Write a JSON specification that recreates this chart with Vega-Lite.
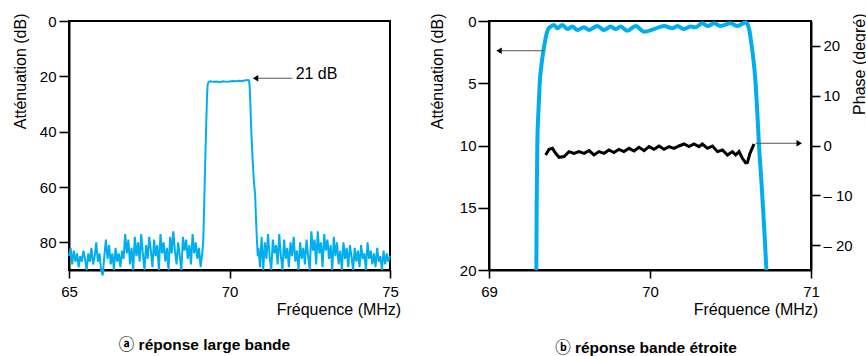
{
  "$schema": "https://vega.github.io/schema/vega-lite/v6.json",
  "padding": {"left": 11, "top": 12, "right": 0, "bottom": 0},
  "background": "white",
  "spacing": 99,
  "bounds": "flush",
  "config": {
    "font": "Liberation Sans",
    "view": {"stroke": "black", "strokeWidth": 2},
    "axis": {"domainColor": "black", "domainWidth": 2, "tickColor": "black", "tickWidth": 1.6, "labelColor": "black", "labelFontSize": 15, "titleFontSize": 16, "titleFontWeight": "normal", "titleColor": "black", "grid": false, "labelFont": "Liberation Sans", "titleFont": "Liberation Sans", "labelFlush": false, "labelOverlap": false},
    "title": {"font": "Liberation Sans, Noto Sans CJK JP", "fontSize": 15.5, "fontWeight": "bold", "color": "black"}
  },
  "datasets": {
    "wide": [
      {"f":65.00,"a":85},{"f":65.05,"a":82},{"f":65.10,"a":88},{"f":65.15,"a":83},{"f":65.20,"a":87},{"f":65.25,"a":84},{"f":65.30,"a":89},{"f":65.35,"a":85},{"f":65.40,"a":87},{"f":65.45,"a":83},
      {"f":65.50,"a":86},{"f":65.55,"a":90},{"f":65.60,"a":84},{"f":65.65,"a":87},{"f":65.70,"a":82},{"f":65.75,"a":88},{"f":65.80,"a":85},{"f":65.85,"a":80},{"f":65.90,"a":87},{"f":65.95,"a":84},
      {"f":66.00,"a":90},{"f":66.05,"a":92},{"f":66.10,"a":85},{"f":66.15,"a":79},{"f":66.20,"a":86},{"f":66.25,"a":81},{"f":66.30,"a":88},{"f":66.35,"a":84},{"f":66.40,"a":90},{"f":66.45,"a":82},
      {"f":66.50,"a":87},{"f":66.55,"a":84},{"f":66.60,"a":89},{"f":66.65,"a":83},{"f":66.70,"a":86},{"f":66.75,"a":77},{"f":66.80,"a":84},{"f":66.85,"a":79},{"f":66.90,"a":88},{"f":66.95,"a":82},
      {"f":67.00,"a":90},{"f":67.05,"a":78},{"f":67.10,"a":85},{"f":67.15,"a":80},{"f":67.20,"a":87},{"f":67.25,"a":77},{"f":67.30,"a":84},{"f":67.35,"a":90},{"f":67.40,"a":81},{"f":67.45,"a":86},
      {"f":67.50,"a":78},{"f":67.55,"a":83},{"f":67.60,"a":89},{"f":67.65,"a":79},{"f":67.70,"a":85},{"f":67.75,"a":81},{"f":67.80,"a":90},{"f":67.85,"a":77},{"f":67.90,"a":84},{"f":67.95,"a":80},
      {"f":68.00,"a":87},{"f":68.05,"a":82},{"f":68.10,"a":90},{"f":68.15,"a":78},{"f":68.20,"a":84},{"f":68.25,"a":76},{"f":68.30,"a":83},{"f":68.35,"a":88},{"f":68.40,"a":80},{"f":68.45,"a":85},
      {"f":68.50,"a":90},{"f":68.55,"a":78},{"f":68.60,"a":83},{"f":68.65,"a":79},{"f":68.70,"a":86},{"f":68.75,"a":81},{"f":68.80,"a":88},{"f":68.85,"a":77},{"f":68.90,"a":84},{"f":68.95,"a":80},
      {"f":69.00,"a":86},{"f":69.05,"a":82},{"f":69.10,"a":89},{"f":69.15,"a":84},
      {"f":69.18,"a":80},{"f":69.20,"a":72},{"f":69.22,"a":62},{"f":69.25,"a":48},{"f":69.28,"a":35},{"f":69.30,"a":27},{"f":69.32,"a":23},{"f":69.35,"a":22},
      {"f":69.40,"a":21.8},{"f":69.50,"a":22},{"f":69.60,"a":21.9},{"f":69.70,"a":22.1},{"f":69.80,"a":21.8},{"f":69.90,"a":22},{"f":70.00,"a":21.9},{"f":70.10,"a":21.7},{"f":70.20,"a":21.8},{"f":70.30,"a":21.6},{"f":70.40,"a":21.7},{"f":70.50,"a":21.4},{"f":70.58,"a":21.3},{"f":70.61,"a":21.5},
      {"f":70.63,"a":24},{"f":70.65,"a":30},{"f":70.68,"a":40},{"f":70.72,"a":50},{"f":70.76,"a":58},{"f":70.80,"a":63},{"f":70.82,"a":70},{"f":70.85,"a":78},{"f":70.88,"a":85},
      {"f":70.90,"a":82},{"f":70.95,"a":89},{"f":71.00,"a":78},{"f":71.05,"a":90},{"f":71.10,"a":80},{"f":71.15,"a":86},{"f":71.20,"a":77},{"f":71.25,"a":85},{"f":71.30,"a":90},{"f":71.35,"a":79},
      {"f":71.40,"a":84},{"f":71.45,"a":81},{"f":71.50,"a":88},{"f":71.55,"a":77},{"f":71.60,"a":85},{"f":71.65,"a":90},{"f":71.70,"a":79},{"f":71.75,"a":86},{"f":71.80,"a":82},{"f":71.85,"a":89},
      {"f":71.90,"a":80},{"f":71.95,"a":85},{"f":72.00,"a":78},{"f":72.05,"a":87},{"f":72.10,"a":83},{"f":72.15,"a":90},{"f":72.20,"a":80},{"f":72.25,"a":86},{"f":72.30,"a":82},{"f":72.35,"a":88},
      {"f":72.40,"a":79},{"f":72.45,"a":85},{"f":72.50,"a":90},{"f":72.55,"a":76},{"f":72.60,"a":83},{"f":72.65,"a":79},{"f":72.70,"a":88},{"f":72.75,"a":76},{"f":72.80,"a":84},{"f":72.85,"a":80},
      {"f":72.90,"a":89},{"f":72.95,"a":77},{"f":73.00,"a":83},{"f":73.05,"a":79},{"f":73.10,"a":86},{"f":73.15,"a":81},{"f":73.20,"a":90},{"f":73.25,"a":78},{"f":73.30,"a":85},{"f":73.35,"a":80},
      {"f":73.40,"a":88},{"f":73.45,"a":83},{"f":73.50,"a":90},{"f":73.55,"a":80},{"f":73.60,"a":86},{"f":73.65,"a":82},{"f":73.70,"a":89},{"f":73.75,"a":81},{"f":73.80,"a":85},{"f":73.85,"a":90},
      {"f":73.90,"a":82},{"f":73.95,"a":87},{"f":74.00,"a":83},{"f":74.05,"a":89},{"f":74.10,"a":81},{"f":74.15,"a":86},{"f":74.20,"a":84},{"f":74.25,"a":90},{"f":74.30,"a":80},{"f":74.35,"a":86},
      {"f":74.40,"a":83},{"f":74.45,"a":88},{"f":74.50,"a":84},{"f":74.55,"a":89},{"f":74.60,"a":82},{"f":74.65,"a":87},{"f":74.70,"a":85},{"f":74.75,"a":90},{"f":74.80,"a":83},{"f":74.85,"a":88},
      {"f":74.90,"a":84},{"f":74.95,"a":87},{"f":75.00,"a":85}
    ],
    "arrA": [{"f": 70.81, "f2": 71.96, "a": 20.7, "head": "triangle-left"}],
    "lblA": [{"f": 72.06, "a": 21.0, "t": "21 dB"}],
    "narrow": [
      {"f":69.294,"a":20},{"f":69.296,"a":15},{"f":69.300,"a":10},{"f":69.308,"a":7},{"f":69.315,"a":5},{"f":69.326,"a":3.5},{"f":69.338,"a":2.4},{"f":69.350,"a":1.5},{"f":69.358,"a":1.0},{"f":69.370,"a":0.6},{"f":69.383,"a":0.45},
      {"f":69.404,"a":0.32},{"f":69.425,"a":0.59},{"f":69.456,"a":0.32},{"f":69.487,"a":0.65},{"f":69.518,"a":0.45},{"f":69.549,"a":0.72},{"f":69.590,"a":0.50},{"f":69.621,"a":0.72},{"f":69.673,"a":0.40},{"f":69.714,"a":0.72},
      {"f":69.756,"a":0.45},{"f":69.787,"a":0.65},{"f":69.818,"a":0.45},{"f":69.860,"a":0.78},{"f":69.911,"a":0.40},{"f":69.963,"a":0.86},{"f":70.025,"a":0.65},{"f":70.087,"a":0.40},{"f":70.139,"a":0.59},{"f":70.170,"a":0.40},
      {"f":70.211,"a":0.65},{"f":70.253,"a":0.45},{"f":70.284,"a":0.50},{"f":70.325,"a":0.19},{"f":70.357,"a":0.40},{"f":70.398,"a":0.19},{"f":70.439,"a":0.40},{"f":70.501,"a":0.19},{"f":70.543,"a":0.40},{"f":70.594,"a":0.13},
      {"f":70.610,"a":0.4},{"f":70.618,"a":0.8},{"f":70.626,"a":1.5},{"f":70.636,"a":2.4},{"f":70.656,"a":5},{"f":70.667,"a":7.5},{"f":70.677,"a":10},{"f":70.690,"a":12.5},{"f":70.702,"a":15},{"f":70.713,"a":17.5},{"f":70.723,"a":20}
    ],
    "phase": [
      {"f":69.352,"p":-1.9},{"f":69.373,"p":-0.77},{"f":69.394,"p":-0.57},{"f":69.414,"p":-1.57},{"f":69.435,"p":-2.37},{"f":69.466,"p":-2.23},{"f":69.497,"p":-1.23},{"f":69.528,"p":-1.57},{"f":69.559,"p":-1.23},{"f":69.590,"p":-1.57},
      {"f":69.621,"p":-1.03},{"f":69.652,"p":-1.9},{"f":69.683,"p":-1.23},{"f":69.714,"p":-1.57},{"f":69.745,"p":-0.9},{"f":69.776,"p":-1.4},{"f":69.807,"p":-0.77},{"f":69.838,"p":-1.23},{"f":69.870,"p":-0.57},{"f":69.901,"p":-1.1},
      {"f":69.932,"p":-0.37},{"f":69.963,"p":-1.03},{"f":69.994,"p":-0.23},{"f":70.025,"p":-0.77},{"f":70.056,"p":-0.1},{"f":70.087,"p":-0.77},{"f":70.118,"p":-0.23},{"f":70.149,"p":-0.57},{"f":70.180,"p":-0.1},{"f":70.211,"p":0.3},
      {"f":70.242,"p":-0.23},{"f":70.273,"p":0.3},{"f":70.304,"p":-0.23},{"f":70.325,"p":0.3},{"f":70.357,"p":-0.57},{"f":70.388,"p":-0.1},{"f":70.419,"p":-1.23},{"f":70.450,"p":-0.9},{"f":70.481,"p":-1.9},{"f":70.512,"p":-1.23},
      {"f":70.532,"p":-1.9},{"f":70.553,"p":-1.23},{"f":70.574,"p":-2.57},{"f":70.594,"p":-3.5},{"f":70.605,"p":-3.43},{"f":70.621,"p":-1.57},{"f":70.646,"p":0.3}
    ],
    "arrB": [
      {"f": 69.062, "f2": 69.34, "a": 2.39, "head": "triangle-left"},
      {"f": 70.927, "f2": 70.656, "a": 9.82, "head": "triangle-right"}
    ]
  },
  "hconcat": [
    {
      "width": 321,
      "height": 249,
      "title": {"text": "ⓐ réponse large bande", "orient": "bottom", "anchor": "middle", "dx": -25, "offset": 33, "baseline": "alphabetic"},
      "encoding": {
        "x": {"field": "f", "type": "quantitative", "scale": {"domain": [65, 75], "nice": false, "zero": false},
              "axis": {"values": [65, 70, 75], "labelExpr": "'' + datum.value", "tickSize": 8, "labelPadding": 6, "title": "Fréquence (MHz)", "titleAnchor": "end", "titleAlign": "right", "titleX": 331.7, "titleY": 44, "titleBaseline": "alphabetic"}},
        "y": {"field": "a", "type": "quantitative", "scale": {"domain": [0, 90], "reverse": true, "nice": false, "zero": false},
              "axis": {"values": [0, 20, 40, 60, 80], "tickSize": 10, "labelPadding": 3, "title": "Atténuation (dB)", "titleAngle": 270, "titleAlign": "right", "titleBaseline": "middle", "titleX": -49, "titleY": -8}}
      },
      "layer": [
        {
          "data": {"name": "wide"},
          "mark": {"type": "line", "color": "#00aeef", "strokeWidth": 2}
        },
        {
          "data": {"name": "arrA"},
          "mark": {"type": "rule", "color": "#555555", "strokeWidth": 1.2},
          "encoding": {"x2": {"field": "f2"}}
        },
        {
          "data": {"name": "arrA"},
          "mark": {"type": "point", "filled": true, "color": "black", "size": 40, "opacity": 1},
          "encoding": {"shape": {"field": "head", "type": "nominal", "scale": null}}
        },
        {
          "data": {"name": "lblA"},
          "mark": {"type": "text", "align": "left", "baseline": "alphabetic", "fontSize": 16, "color": "black"},
          "encoding": {"text": {"field": "t"}}
        }
      ]
    },
    {
      "width": 322,
      "height": 249,
      "title": {"text": "ⓑ réponse bande étroite", "orient": "bottom", "anchor": "middle", "dx": -4, "offset": 36, "baseline": "alphabetic"},
      "encoding": {
        "x": {"field": "f", "type": "quantitative", "scale": {"domain": [69, 71], "nice": false, "zero": false},
              "axis": {"values": [69, 70, 71], "labelExpr": "'' + datum.value", "tickSize": 8, "labelPadding": 6, "title": "Fréquence (MHz)", "titleAnchor": "end", "titleAlign": "right", "titleX": 328.7, "titleY": 44, "titleBaseline": "alphabetic"}}
      },
      "layer": [
        {
          "encoding": {
            "y": {"field": "a", "type": "quantitative", "scale": {"domain": [0, 20], "reverse": true, "nice": false, "zero": false},
                  "axis": {"values": [0, 5, 10, 15, 20], "tickSize": 11, "labelPadding": 2, "title": "Atténuation (dB)", "titleAngle": 270, "titleAlign": "right", "titleBaseline": "middle", "titleX": -52, "titleY": -8}}
          },
          "layer": [
            {
              "data": {"name": "narrow"},
              "mark": {"type": "line", "color": "#00aeef", "strokeWidth": 4, "interpolate": "monotone"}
            },
            {
              "data": {"name": "arrB"},
              "mark": {"type": "rule", "color": "#555555", "strokeWidth": 1.2},
              "encoding": {"x2": {"field": "f2"}}
            },
            {
              "data": {"name": "arrB"},
              "mark": {"type": "point", "filled": true, "color": "black", "size": 40, "opacity": 1},
              "encoding": {"shape": {"field": "head", "type": "nominal", "scale": null}}
            }
          ]
        },
        {
          "data": {"name": "phase"},
          "mark": {"type": "line", "color": "black", "strokeWidth": 3},
          "encoding": {
            "y": {"field": "p", "type": "quantitative", "scale": {"domain": [-25, 25], "nice": false, "zero": false},
                  "axis": {"orient": "right", "values": [-20, -10, 0, 10, 20], "tickSize": 9, "labelPadding": 3, "labelAlign": "left", "labelExpr": "datum.value < 0 ? '– ' + abs(datum.value) : '' + datum.value", "title": "Phase (degré)", "titleAngle": 270, "titleAlign": "right", "titleBaseline": "middle", "titleX": 48, "titleY": -8}}
          }
        }
      ],
      "resolve": {"scale": {"y": "independent"}}
    }
  ]
}
